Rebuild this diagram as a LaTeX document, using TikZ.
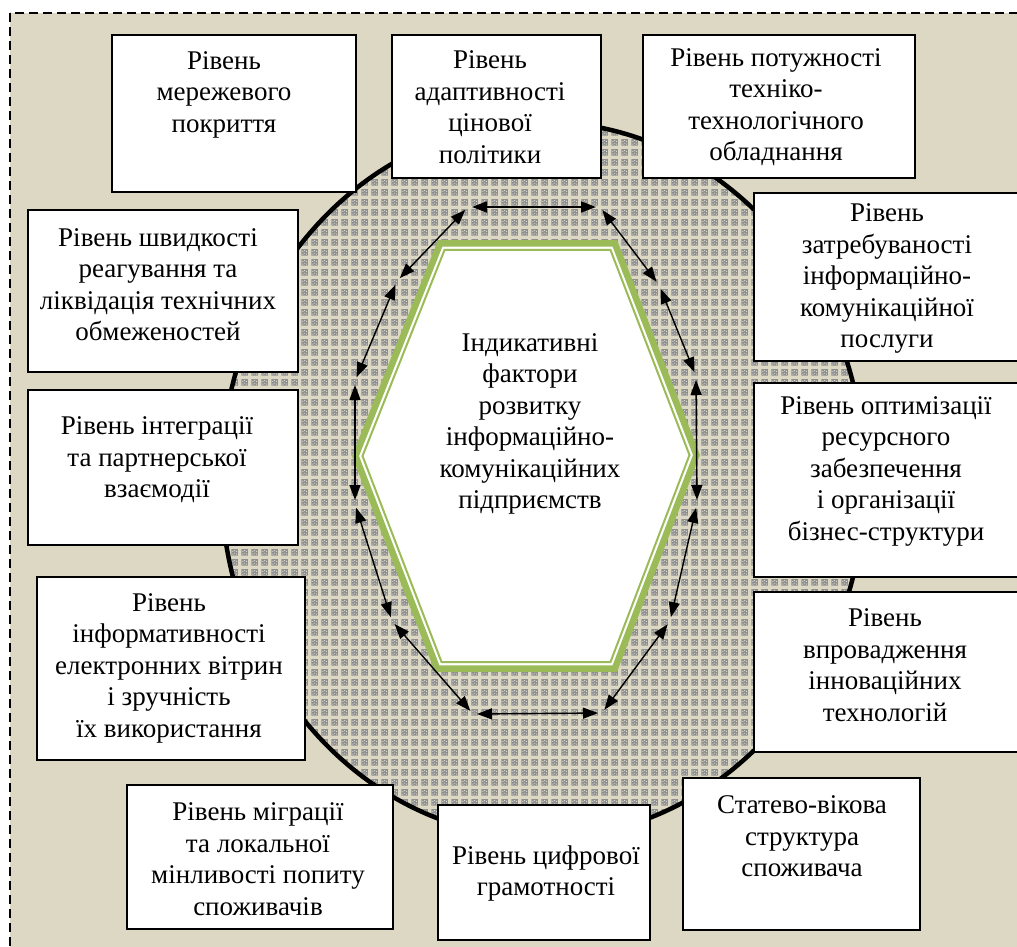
\documentclass[tikz,border=0pt]{standalone}
\usepackage{fontspec}
\setmainfont{Liberation Serif}
\usetikzlibrary{arrows.meta,patterns.meta}
\definecolor{beige}{HTML}{DDD8C4}
\definecolor{hexgreen}{HTML}{9BBB59}
\definecolor{cellgray}{HTML}{8F8F8D}
\definecolor{celldot}{HTML}{D8D8D6}
\tikzdeclarepattern{
  name=cells,
  type=colored,
  bounding box={(0pt,0pt) and (10pt,10pt)},
  tile size={(10pt,10pt)},
  code={
    \fill[beige] (0pt,0pt) rectangle (10pt,10pt);
    \fill[cellgray] (1.6pt,1.6pt) rectangle (8.6pt,8.6pt);
    \fill[celldot] (2.6pt,2.6pt) rectangle (3.6pt,3.6pt);
    \fill[celldot] (4.6pt,3.6pt) rectangle (5.6pt,4.6pt);
    \fill[celldot] (6.6pt,2.6pt) rectangle (7.6pt,3.6pt);
    \fill[celldot] (2.6pt,5.6pt) rectangle (3.6pt,6.6pt);
    \fill[celldot] (4.6pt,6.6pt) rectangle (5.6pt,7.6pt);
    \fill[celldot] (6.6pt,5.6pt) rectangle (7.6pt,6.6pt);
  }
}
\begin{document}
\begin{tikzpicture}[x=1pt,y=-1pt,
  box/.style={draw=black, line width=1.3pt, fill=white, inner sep=0pt},
  txt/.style={align=center, font=\fontsize{27}{31.5}\selectfont, inner sep=0pt},
  ring/.style={{Triangle[length=15pt,width=11pt]}-{Triangle[length=15pt,width=11pt]}, line width=1.4pt, shorten <=4pt, shorten >=4pt}]

\useasboundingbox (0,0) rectangle (1017,947);
\clip (0,0) rectangle (1017,947);
\fill[white] (0,0) rectangle (1017,947);
\draw[fill=beige, line width=2.2pt, dash pattern=on 9pt off 5pt] (10,13) rectangle (1030,960);

% big ellipse
\draw[line width=4.5pt, pattern=cells] (543,480) ellipse [x radius=322, y radius=358];

% hexagon
\coordinate (h1) at (440.2,243.3);
\coordinate (h2) at (614.8,243.3);
\coordinate (h3) at (696.5,455);
\coordinate (h4) at (614.8,668.7);
\coordinate (h5) at (437.2,668.7);
\coordinate (h6) at (355.5,456);
\coordinate (i1) at (444.6,249.8);
\coordinate (i2) at (610.4,249.8);
\coordinate (i3) at (689.5,455);
\coordinate (i4) at (610.4,662.2);
\coordinate (i5) at (441.6,662.2);
\coordinate (i6) at (362.5,456);
\filldraw[fill=white, draw=hexgreen, line width=6.5pt, line join=miter] (h1)--(h2)--(h3)--(h4)--(h5)--(h6)--cycle;
\draw[hexgreen, line width=2pt, line join=miter] (i1)--(i2)--(i3)--(i4)--(i5)--(i6)--cycle;
\node[txt] (core) at (530,424) {Індикативні\\фактори\\розвитку\\інформаційно-\\комунікаційних\\підприємств};

% ring of arrows
\coordinate (c1) at (468,207);
\coordinate (c2) at (600,207);
\coordinate (c3) at (659,285);
\coordinate (c4) at (696,376);
\coordinate (c5) at (697,504);
\coordinate (c6) at (670,621);
\coordinate (c7) at (602,713);
\coordinate (c8) at (473,714);
\coordinate (c9) at (392,621);
\coordinate (c10) at (355,504);
\coordinate (c11) at (355,381);
\coordinate (c12) at (397,281);
\draw[ring] (c1) -- (c2);
\draw[ring] (c2) -- (c3);
\draw[ring] (c3) -- (c4);
\draw[ring] (c4) -- (c5);
\draw[ring] (c5) -- (c6);
\draw[ring] (c6) -- (c7);
\draw[ring] (c7) -- (c8);
\draw[ring] (c8) -- (c9);
\draw[ring] (c9) -- (c10);
\draw[ring] (c10) -- (c11);
\draw[ring] (c11) -- (c12);
\draw[ring] (c12) -- (c1);

% boxes
\node[box, minimum width=244pt, minimum height=157pt] (b1) at (234,113.5) {};
\node[txt] (t1) at (224,94.5) {Рівень\\мережевого\\покриття};
\node[box, minimum width=209pt, minimum height=143pt] (b2) at (496.5,106.5) {};
\node[txt] (t2) at (490,107) {Рівень\\адаптивності\\цінової\\політики};
\node[box, minimum width=272pt, minimum height=143pt] (b3) at (779,106.5) {};
\node[txt] (t3) at (776,107) {Рівень потужності\\техніко-\\технологічного\\обладнання};
\node[box, minimum width=270pt, minimum height=162pt] (b4) at (163,291) {};
\node[txt] (t4) at (158,284.5) {Рівень швидкості\\реагування та\\ліквідація технічних\\обмеженостей};
\node[box, minimum width=270pt, minimum height=155pt] (b5) at (163,467.5) {};
\node[txt] (t5) at (157,460) {Рівень інтеграції\\та партнерської\\взаємодії};
\node[box, minimum width=268pt, minimum height=183pt] (b6) at (171,668.5) {};
\node[txt] (t6) at (169,668) {Рівень\\інформативності\\електронних вітрин\\і зручність\\їх використання};
\node[box, minimum width=266pt, minimum height=144pt] (b7) at (260,857) {};
\node[txt] (t7) at (258,859) {Рівень міграції\\та локальної\\мінливості попиту\\споживачів};
\node[box, minimum width=212pt, minimum height=135pt] (b8) at (544,872.5) {};
\node[txt] (t8) at (546,873.5) {Рівень цифрової\\грамотності};
\node[box, minimum width=237pt, minimum height=152pt] (b9) at (801.5,854) {};
\node[txt] (t9) at (802,836.5) {Статево-вікова\\структура\\споживача};
\node[box, minimum width=266pt, minimum height=168pt] (b10) at (887,277) {};
\node[txt] (t10) at (887,278.5) {Рівень\\затребуваності\\інформаційно-\\комунікаційної\\послуги};
\node[box, minimum width=266pt, minimum height=194pt] (b11) at (887,480) {};
\node[txt] (t11) at (886,471) {Рівень оптимізації\\ресурсного\\забезпечення\\і організації\\бізнес-структури};
\node[box, minimum width=266pt, minimum height=160pt] (b12) at (887,672) {};
\node[txt] (t12) at (885,665) {Рівень\\впровадження\\інноваційних\\технологій};
\end{tikzpicture}
\end{document}
